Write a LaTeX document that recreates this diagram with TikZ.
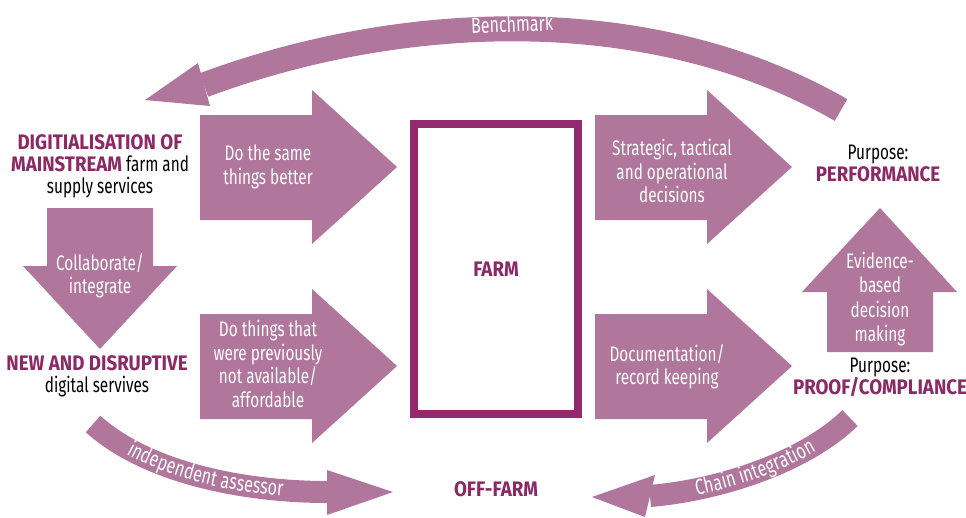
\documentclass[tikz,border=0pt]{standalone}
\usepackage{fontspec}
\setmainfont{Fira Sans}[FakeStretch=0.73, BoldFeatures={FakeStretch=0.89}]
\usetikzlibrary{decorations.text}

\definecolor{mauve}{RGB}{176,118,156}
\definecolor{plum}{RGB}{140,40,100}
\definecolor{framecol}{RGB}{147,42,110}

\tikzset{
  blockfill/.style={fill=mauve},
  band/.style={draw=mauve, line width=24pt},
  intext/.style={text=white, align=center, font=\fontsize{21}{23.5}\selectfont},
  outtext/.style={text=black, align=center, font=\fontsize{21}{22}\selectfont},
  farmbox/.style={draw=framecol, line width=8pt, minimum width=164pt, minimum height=290pt},
  bandtext/.style={decorate, decoration={text along path, text align=center, raise=-6pt,
    text={|\color{white}\fontsize{22}{22}\selectfont|#1}}},
}
\newcommand{\hl}[1]{\textbf{\textcolor{plum}{#1}}}

\begin{document}
\begin{tikzpicture}[x=1pt,y=-1pt]
\useasboundingbox (0,0) rectangle (966,517);
\fill[white] (0,0) rectangle (966,517);

% straight block arrows
\foreach \dx/\dy in {0/0,0/199,395/0,395/199}{
\begin{scope}[shift={(\dx,\dy)}]
\fill[blockfill] (200,115) -- (312,115) -- (312,90) -- (397,167)
  -- (312,244) -- (312,220) -- (200,220) -- cycle;
\end{scope}
}
% down and up arrows
\fill[blockfill] (47,208) -- (153,208) -- (153,266) -- (177,266)
  -- (100,349) -- (23,266) -- (47,266) -- cycle;
\fill[blockfill] (827,352) -- (827,292) -- (802,292) -- (880,208)
  -- (957,292) -- (933,292) -- (933,352) -- cycle;

% curved arrows
\coordinate (bstart) at (841,110);
\coordinate (bbase) at (204,85);
\coordinate (btip) at (145,100);
\draw[band, line width=25pt] (bstart) .. controls (650,0) and (400,12) .. (bbase);
\fill[blockfill] (btip) -- (198,63) -- (210,106) -- cycle;

\coordinate (istart) at (93,424);
\coordinate (ibase) at (327,492);
\coordinate (itip) at (393,492);
\draw[band, line width=22pt] (istart) .. controls (150,475) and (250,492) .. (ibase);
\fill[blockfill] (itip) -- (327,470) -- (327,515) -- cycle;
\path[bandtext={independent assessor}] (istart) .. controls (150,475) and (250,492) .. (ibase);

\coordinate (cstart) at (850,418);
\coordinate (cbase) at (650,496);
\coordinate (ctip) at (592,497);
\draw[band, line width=22pt] (cstart) .. controls (805,462) and (720,490) .. (cbase);
\fill[blockfill] (ctip) -- (655,475) -- (645,517) -- cycle;
\path[bandtext={Chain integration}] (cbase) .. controls (720,490) and (805,462) .. (cstart);

% farm
\node[farmbox] (farm) at (496,269) {\fontsize{21}{22}\selectfont\hl{FARM}};

% labels
\node[text=white, rotate=2, font=\fontsize{22}{22}\selectfont] (bench) at (512,24) {Benchmark};
\node[intext] (same) at (268,167) {Do the same\\things better};
\node[intext] (prev) at (268,364) {Do things that\\were previously\\not available/\\affordable};
\node[intext] (strat) at (672,171) {Strategic, tactical\\and operational\\decisions};
\node[intext] (doc) at (667,367) {Documentation/\\record keeping};
\node[intext] (collab) at (100,276) {Collaborate/\\integrate};
\node[intext, font=\fontsize{21}{24.6}\selectfont] (evid) at (880,299) {Evidence-\\based\\decision\\making};
\node[outtext] (digi) at (100,166) {\hl{DIGITIALISATION OF}\\\hl{MAINSTREAM} farm and\\supply services};
\node[outtext] (newdis) at (97,376) {\hl{NEW AND DISRUPTIVE}\\digital servives};
\node[outtext] (perf) at (878,163) {Purpose:\\\hl{PERFORMANCE}};
\node[outtext] (proof) at (880,377) {Purpose:\\\hl{PROOF/COMPLIANCE}};
\node[outtext] (offfarm) at (496,489) {\hl{OFF-FARM}};

\end{tikzpicture}
\end{document}
